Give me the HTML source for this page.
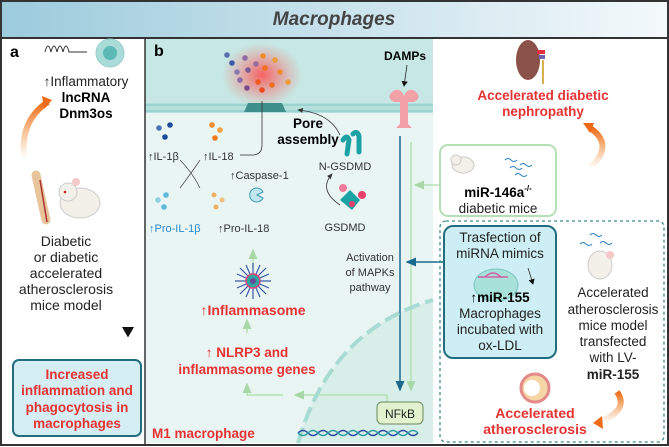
<!DOCTYPE html>
<html><head><meta charset="utf-8"><style>
html,body{margin:0;padding:0;background:#fff}
svg{display:block;font-family:"Liberation Sans",sans-serif}
</style></head><body>
<svg width="669" height="447" viewBox="0 0 669 447" xmlns="http://www.w3.org/2000/svg">
<defs>
<linearGradient id="hdr" x1="0" x2="1"><stop offset="0" stop-color="#9ccbdc"/><stop offset="1" stop-color="#f4f9fb"/></linearGradient>
<radialGradient id="glow"><stop offset="0" stop-color="#ff4b4b" stop-opacity=".85"/><stop offset="1" stop-color="#ff6b6b" stop-opacity="0"/></radialGradient>
<linearGradient id="org" x1="0" y1="1" x2="0" y2="0"><stop offset="0" stop-color="#f08a2a" stop-opacity="0"/><stop offset="1" stop-color="#ee6a16"/></linearGradient>
<linearGradient id="vline" x1="0" y1="0" x2="0" y2="1"><stop offset="0" stop-color="#fff"/><stop offset="1" stop-color="#111"/></linearGradient>
<marker id="ab" markerWidth="8" markerHeight="8" refX="6" refY="4" orient="auto"><path d="M0,0 L7,4 L0,8z" fill="#111"/></marker>
<marker id="ablue" markerWidth="8" markerHeight="8" refX="6" refY="4" orient="auto"><path d="M0,1 L7,4 L0,7z" fill="#1a6a90"/></marker>
<marker id="agr" markerWidth="8" markerHeight="8" refX="6" refY="4" orient="auto"><path d="M0,1 L7,4 L0,7z" fill="#a8d8a8"/></marker>
<marker id="ag" markerWidth="8" markerHeight="8" refX="6" refY="4" orient="auto"><path d="M0,1 L7,4 L0,7z" fill="#333"/></marker>
</defs>
<rect x="0" y="0" width="669" height="447" fill="#fff"/>
<rect x="1" y="1" width="667" height="37" fill="url(#hdr)"/>
<text x="334" y="25" text-anchor="middle" font-size="19" font-weight="bold" font-style="italic" fill="#444">Macrophages</text>
<rect x="145" y="38" width="288" height="67" fill="#c6e7e3"/>
<rect x="145" y="105" width="288" height="338" fill="#e9f5f3"/>
<path d="M298,443 Q330,330 433,300 L433,443Z" fill="#d8eee9"/>
<rect x="145" y="103" width="288" height="10" fill="#b4dfdc"/>
<line x1="145" y1="105" x2="433" y2="105" stroke="#7fc7c4" stroke-width="1"/>
<line x1="145" y1="111" x2="433" y2="111" stroke="#7fc7c4" stroke-width="1"/>
<rect x="1" y="1" width="667" height="444" fill="none" stroke="#333" stroke-width="2"/>
<line x1="0" y1="38" x2="669" y2="38" stroke="#333" stroke-width="2"/>
<line x1="145" y1="38" x2="145" y2="445" stroke="#333" stroke-width="1.5"/>
<!-- panel a -->
<text x="10" y="57" font-size="16" font-weight="bold">a</text>
<path d="M45,52 q3,-12 6,0 q3,-12 6,0 q3,-12 6,0 q3,-12 6,0 l18,0" fill="none" stroke="#333" stroke-width="1"/>
<circle cx="110" cy="53" r="14" fill="#a9dcd9" stroke="#9bd0cc"/>
<circle cx="110" cy="53" r="7" fill="#5cbab5"/>
<text x="86" y="86" text-anchor="middle" font-size="13.5" fill="#222">↑Inflammatory</text>
<text x="86" y="102" text-anchor="middle" font-size="13.5" font-weight="bold">lncRNA</text>
<text x="86" y="118" text-anchor="middle" font-size="13.5" font-weight="bold">Dnm3os</text>
<path d="M24,158 Q20,120 48,102" fill="none" stroke="url(#org)" stroke-width="6"/>
<path d="M42,96 L52,100 L44,109z" fill="#ee6a16"/>
<line x1="128" y1="105" x2="128" y2="336" stroke="url(#vline)" stroke-width="1.5" marker-end="url(#ab)"/>
<path d="M36,175 L46,220" stroke="#e7c49a" stroke-width="9" stroke-linecap="round"/>
<line x1="40" y1="180" x2="47" y2="222" stroke="#a33" stroke-width="1.5"/>
<ellipse cx="80" cy="203" rx="20" ry="15" fill="#f3efe9" stroke="#ccc"/>
<circle cx="68" cy="192" r="9" fill="#f3efe9" stroke="#ccc"/>
<circle cx="76" cy="182" r="4" fill="#f5c9c9"/>
<circle cx="65" cy="192" r="1.3" fill="#c22"/>
<g font-size="14" fill="#222" text-anchor="middle">
<text x="66" y="246">Diabetic</text><text x="66" y="262">or diabetic</text><text x="66" y="278">accelerated</text><text x="66" y="294">atherosclerosis</text><text x="66" y="310">mice model</text>
</g>
<rect x="13" y="360" width="128" height="76" rx="6" fill="#d4eef4" stroke="#226e7e" stroke-width="2"/>
<g font-size="13.5" font-weight="bold" fill="#e53333" text-anchor="middle">
<text x="77" y="379">Increased</text><text x="77" y="395">inflammation and</text><text x="77" y="412">phagocytosis in</text><text x="77" y="428">macrophages</text>
</g>
<!-- panel b -->
<text x="154" y="56" font-size="16" font-weight="bold">b</text>
<ellipse cx="262" cy="75" rx="40" ry="32" fill="url(#glow)"/>
<g>
<circle cx="227" cy="55" r="2.8" fill="#5a6fb0"/><circle cx="232" cy="63" r="2.8" fill="#3e5aa8"/>
<circle cx="245" cy="58" r="2.8" fill="#8a6aa8"/><circle cx="248" cy="70" r="2.8" fill="#7a5a98"/>
<circle cx="240" cy="80" r="2.8" fill="#8a6aa8"/><circle cx="256" cy="64" r="2.8" fill="#9a6aa0"/>
<circle cx="263" cy="56" r="2.8" fill="#f08a2a"/><circle cx="265" cy="68" r="2.8" fill="#f07020"/>
<circle cx="275" cy="60" r="2.8" fill="#f09a3a"/><circle cx="280" cy="72" r="2.8" fill="#f08a2a"/>
<circle cx="258" cy="82" r="2.8" fill="#ef5a20"/><circle cx="272" cy="85" r="2.8" fill="#f07020"/>
<circle cx="247" cy="88" r="2.8" fill="#7a4a88"/><circle cx="288" cy="82" r="2.8" fill="#f09a3a"/>
<circle cx="262" cy="90" r="2.8" fill="#ef4a20"/><circle cx="237" cy="72" r="2.8" fill="#8a7ab0"/>
</g>
<path d="M244,112 L248,103 L282,103 L286,112z" fill="#3f8f8c"/>
<path d="M262,101 L262,145 Q262,155 252,155 L240,155" fill="none" stroke="#333" stroke-width="0.8"/>
<text x="308" y="128" text-anchor="middle" font-size="13.5" font-weight="bold">Pore</text>
<text x="308" y="144" text-anchor="middle" font-size="13.5" font-weight="bold">assembly</text>
<path d="M340,135 Q330,113 298,110" fill="none" stroke="#333" stroke-width="0.8" marker-end="url(#ag)"/>
<path d="M343,140 q4,-6 6,0 l-2,14 M353,134 q4,-4 6,2 l0,16" fill="none" stroke="#1aa2a5" stroke-width="5" stroke-linecap="round"/>
<text x="345" y="170" text-anchor="middle" font-size="11" fill="#333">N-GSDMD</text>
<path d="M340,200 L350,190 L360,200 L352,210z" fill="#1aa2a5"/>
<circle cx="343" cy="188" r="4" fill="#f07a9a"/><circle cx="362" cy="195" r="4" fill="#e6406a"/><circle cx="352" cy="204" r="3" fill="#e6406a"/>
<path d="M340,205 Q318,190 332,174" fill="none" stroke="#333" stroke-width="0.8" marker-end="url(#ag)"/>
<text x="345" y="231" text-anchor="middle" font-size="11" fill="#333">GSDMD</text>
<circle cx="159" cy="128" r="2.8" fill="#4a74b8"/><circle cx="170" cy="125" r="2.8" fill="#1e4c9c"/><circle cx="165" cy="137" r="2.8" fill="#1e4c9c"/>
<circle cx="212" cy="125" r="2.8" fill="#f08a2a"/><circle cx="220" cy="130" r="2.8" fill="#f0a040"/><circle cx="215" cy="138" r="2.8" fill="#ef7a20"/>
<text x="148" y="160" font-size="11" fill="#333">↑IL-1β</text>
<text x="203" y="160" font-size="11" fill="#333">↑IL-18</text>
<path d="M180,188 Q192,172 200,160 M180,160 Q192,172 200,188" fill="none" stroke="#444" stroke-width="0.7"/>
<text x="230" y="179" font-size="11" fill="#333">↑Caspase-1</text>
<path d="M263,198 a7,7 0 1,1 0,-6 l-6,3z" fill="#bfe6ef" stroke="#3a9ab0" stroke-width="1"/>
<circle cx="158" cy="200" r="2.8" fill="#8fd0e0"/><circle cx="166" cy="195" r="2.8" fill="#5eb8d8"/><circle cx="164" cy="207" r="2.8" fill="#5eb8d8"/>
<circle cx="214" cy="195" r="2.5" fill="#f0b060"/><circle cx="222" cy="200" r="2.5" fill="#f0c080"/><circle cx="216" cy="207" r="2.5" fill="#f0b060"/>
<text x="149" y="232" font-size="11" fill="#2a8ad0">↑Pro-IL-1β</text>
<text x="218" y="232" font-size="11" fill="#333">↑Pro-IL-18</text>
<text x="405" y="60" text-anchor="middle" font-size="12" font-weight="bold">DAMPs</text>
<line x1="407" y1="65" x2="404" y2="86" stroke="#222" stroke-width="0.8" marker-end="url(#ab)"/>
<path d="M392,92 q8,-6 12,4 q4,-10 12,-4 q6,6 -2,10 l-6,0 l0,22 l4,4 -16,0 4,-4 0,-22 -6,0 q-8,-4 -2,-10z" fill="#f3a0a8"/>
<line x1="400" y1="136" x2="400" y2="390" stroke="#1a6a90" stroke-width="1.5" marker-end="url(#ablue)"/>
<line x1="411" y1="142" x2="411" y2="390" stroke="#b5e0b5" stroke-width="1.5" marker-end="url(#agr)"/>
<line x1="440" y1="185" x2="415" y2="185" stroke="#b5e0b5" stroke-width="1.5" marker-end="url(#agr)"/>
<line x1="445" y1="262" x2="407" y2="262" stroke="#1a6a90" stroke-width="1.5" marker-end="url(#ablue)"/>
<g font-size="11" fill="#333" text-anchor="middle">
<text x="370" y="261">Activation</text><text x="370" y="276">of MAPKs</text><text x="370" y="291">pathway</text>
</g>
<line x1="253" y1="268" x2="253" y2="250" stroke="#b5e0b5" stroke-width="1.5" marker-end="url(#agr)"/>
<g transform="translate(253,281)" stroke="#3a5aa8" stroke-width="1.2">
<line x1="-18" y1="0" x2="18" y2="0"/><line x1="0" y1="-18" x2="0" y2="18"/><line x1="-13" y1="-13" x2="13" y2="13"/><line x1="-13" y1="13" x2="13" y2="-13"/>
<line x1="-16" y1="-7" x2="16" y2="7"/><line x1="-7" y1="-16" x2="7" y2="16"/><line x1="-16" y1="7" x2="16" y2="-7"/><line x1="7" y1="-16" x2="-7" y2="16"/>
<circle r="7" fill="#2aa8a0" stroke="#e0407a" stroke-width="1.5"/><circle r="3" fill="#6a4a9a" stroke="none"/>
</g>
<text x="253" y="315" text-anchor="middle" font-size="14" font-weight="bold" fill="#e53333">↑Inflammasome</text>
<line x1="247" y1="333" x2="247" y2="320" stroke="#b5e0b5" stroke-width="1.5" marker-end="url(#agr)"/>
<text x="247" y="357" text-anchor="middle" font-size="13.5" font-weight="bold" fill="#e53333">↑ NLRP3 and</text>
<text x="247" y="374" text-anchor="middle" font-size="13.5" font-weight="bold" fill="#e53333">inflammasome genes</text>
<path d="M387,402 L387,395 L295,395" fill="none" stroke="#b5e0b5" stroke-width="1.5" marker-end="url(#agr)"/>
<path d="M283,395 L247,395 L247,384" fill="none" stroke="#b5e0b5" stroke-width="1.5" marker-end="url(#agr)"/>
<path d="M298,443 Q330,330 433,300" fill="none" stroke="#a8dcd2" stroke-width="4" stroke-dasharray="16,6"/>
<rect x="377" y="402" width="46" height="22" rx="5" fill="#e2f2cf" stroke="#6a8a5a" stroke-width="1"/>
<text x="400" y="418" text-anchor="middle" font-size="12" fill="#222">NFkB</text>
<path d="M298,433 q5,-5 10,0 t10,0 t10,0 t10,0 t10,0 t10,0 t10,0 t10,0 t10,0 t10,0 t10,0 t10,0" fill="none" stroke="#2a4aa0" stroke-width="1.5"/>
<path d="M298,433 q5,5 10,0 t10,0 t10,0 t10,0 t10,0 t10,0 t10,0 t10,0 t10,0 t10,0 t10,0 t10,0" fill="none" stroke="#2aa0a0" stroke-width="1.5"/>
<text x="152" y="438" font-size="13.5" font-weight="bold" fill="#e53333">M1 macrophage</text>
<!-- right area -->
<ellipse cx="528" cy="60" rx="12" ry="20" fill="#8a5248"/>
<rect x="537" y="50" width="8" height="4" fill="#e0303a"/><rect x="539" y="55" width="6" height="4" fill="#7060b0"/>
<line x1="543" y1="60" x2="543" y2="84" stroke="#d6b050" stroke-width="2"/>
<text x="543" y="100" text-anchor="middle" font-size="13.5" font-weight="bold" fill="#e53333">Accelerated diabetic</text>
<text x="543" y="116" text-anchor="middle" font-size="13.5" font-weight="bold" fill="#e53333">nephropathy</text>
<path d="M590,168 Q615,145 590,128" fill="none" stroke="url(#org)" stroke-width="6"/>
<path d="M583,123 L594,123 L590,133z" fill="#ee6a16"/>
<rect x="440" y="145" width="116" height="71" rx="8" fill="#fff" stroke="#b5e0b5" stroke-width="2"/>
<ellipse cx="463" cy="165" rx="11" ry="8" fill="#f3efe9" stroke="#ccc"/><circle cx="456" cy="160" r="5" fill="#f3efe9" stroke="#ccc"/>
<path d="M505,160 q3,-3 6,0 t6,0 M510,168 q3,-3 6,0 t6,0 M520,165 q3,-3 6,0 t6,0 M515,175 q3,-3 6,0 t6,0" fill="none" stroke="#2a80c0" stroke-width="1"/>
<text x="498" y="197" text-anchor="middle" font-size="13.5" font-weight="bold">miR-146a<tspan font-size="8" dy="-6">-/-</tspan></text>
<text x="498" y="213" text-anchor="middle" font-size="13.5" fill="#222">diabetic mice</text>
<rect x="440" y="221" width="224" height="221" rx="6" fill="none" stroke="#3a8a8a" stroke-width="1.3" stroke-dasharray="3,3"/>
<rect x="444" y="226" width="112" height="132" rx="9" fill="#cdeef4" stroke="#226e7e" stroke-width="2"/>
<text x="500" y="242" text-anchor="middle" font-size="13.5" fill="#222">Trasfection of</text>
<text x="500" y="258" text-anchor="middle" font-size="13.5" fill="#222">miRNA mimics</text>
<ellipse cx="496" cy="285" rx="22" ry="16" fill="#a8e0da" stroke="#7cc8c0"/>
<path d="M478,277 h30 M485,277 q8,-8 16,0" fill="none" stroke="#d060a0" stroke-width="1.5"/>
<line x1="528" y1="268" x2="533" y2="284" stroke="#222" stroke-width="0.8" marker-end="url(#ab)"/>
<text x="500" y="302" text-anchor="middle" font-size="13.5" font-weight="bold">↑miR-155</text>
<text x="500" y="318" text-anchor="middle" font-size="13.5" fill="#222">Macrophages</text>
<text x="500" y="334" text-anchor="middle" font-size="13.5" fill="#222">incubated with</text>
<text x="500" y="350" text-anchor="middle" font-size="13.5" fill="#222">ox-LDL</text>
<path d="M590,235 q3,-3 6,0 t6,0 M600,243 q3,-3 6,0 t6,0 M580,244 q3,-3 6,0 t6,0" fill="none" stroke="#2a80c0" stroke-width="1"/>
<ellipse cx="600" cy="265" rx="12" ry="14" fill="#f3efe9" stroke="#ccc"/><circle cx="610" cy="255" r="4" fill="#f5c9c9"/>
<g font-size="13.5" fill="#222" text-anchor="middle">
<text x="613" y="297">Accelerated</text><text x="613" y="314">atherosclerosis</text><text x="613" y="330">mice model</text><text x="613" y="346">transfected</text><text x="613" y="362">with LV-</text>
<text x="613" y="379" font-weight="bold">miR-155</text>
</g>
<circle cx="535" cy="388" r="14" fill="#f6d6a6" stroke="#e38a8a" stroke-width="3"/>
<circle cx="532" cy="388" r="8" fill="#fff"/>
<text x="535" y="418" text-anchor="middle" font-size="14" font-weight="bold" fill="#e53333">Accelerated</text>
<text x="535" y="434" text-anchor="middle" font-size="14" font-weight="bold" fill="#e53333">atherosclerosis</text>
<path d="M617,392 Q630,410 598,423" fill="none" stroke="url(#org)" stroke-width="6"/>
<path d="M593,423 L602,416 L603,429z" fill="#ee6a16"/>
</svg>
</body></html>
